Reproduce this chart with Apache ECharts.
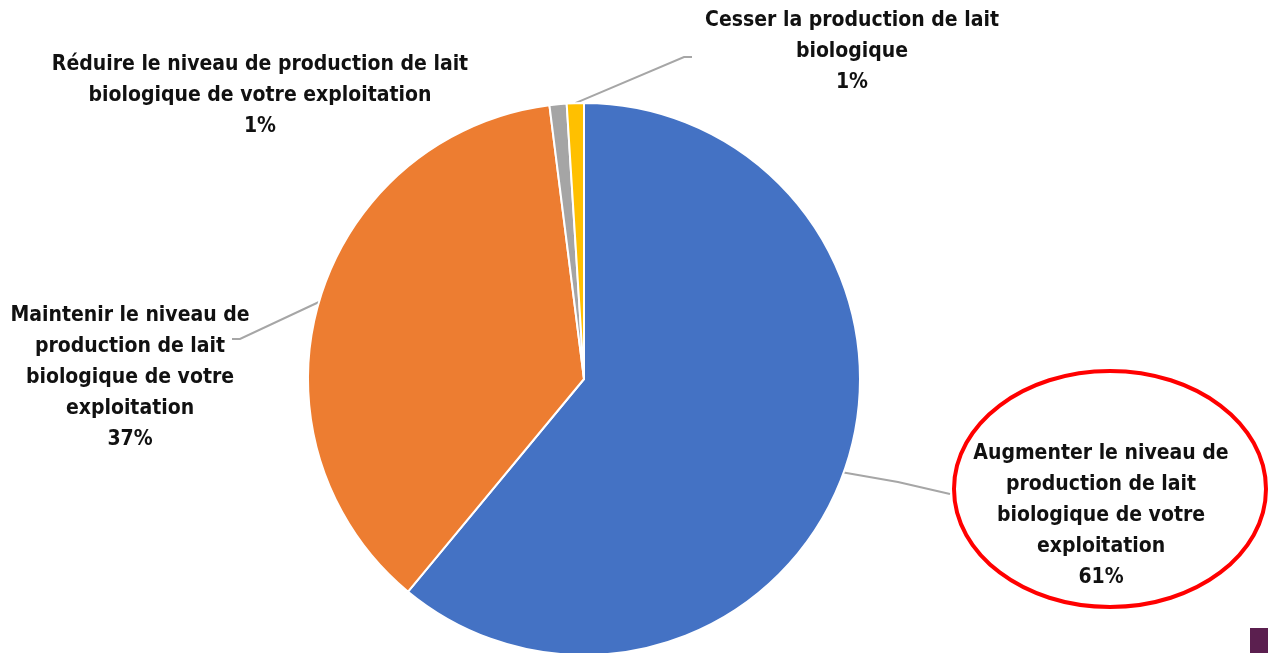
<!DOCTYPE html>
<html><head><meta charset="utf-8">
<script src="https://cdn.jsdelivr.net/npm/echarts@6/dist/echarts.min.js"></script>
<style>html,body{margin:0;padding:0;background:#fff}#c{width:1268px;height:653px}</style>
</head><body><div id="c"></div>
<script>
const categories = [
  "Augmenter le niveau de\nproduction de lait\nbiologique de votre\nexploitation",
  "Maintenir le niveau de\nproduction de lait\nbiologique de votre\nexploitation",
  "Réduire le niveau de production de lait\nbiologique de votre exploitation",
  "Cesser la production de lait\nbiologique"
];
const values = [61, 37, 1, 1];
const colors = ["#4472C4", "#ED7D31", "#A5A5A5", "#FFC000"];
// label anchor (center x, center y) per slice
const labelPos = [[1101, 516], [130, 378], [260, 96], [852, 52]];
// label line bend / end points
const linePts = [
  [[898, 482], [950, 494]],
  [[240, 339], [232, 339]],
  null,
  [[684, 57], [692, 57]]
];

const chart = echarts.init(document.getElementById('c'), null, {renderer: 'canvas'});
const font = "'Liberation Sans Narrow', 'Arial Narrow', 'DejaVu Sans Condensed', sans-serif";
chart.setOption({
  animation: false,
  backgroundColor: '#fff',
  graphic: [
    {type: 'ellipse', shape: {cx: 1110, cy: 489, rx: 156, ry: 118}, style: {fill: 'none', stroke: '#FF0000', lineWidth: 4}, z: 10},
    {type: 'rect', shape: {x: 1250, y: 628, width: 18, height: 25}, style: {fill: '#5B1F4F'}}
  ],
  series: [{
    type: 'pie',
    center: [584, 379],
    radius: 276,
    startAngle: 90,
    clockwise: true,
    avoidLabelOverlap: false,
    data: categories.map((n, i) => ({
      name: n, value: values[i],
      itemStyle: {color: colors[i]},
      labelLine: {show: linePts[i] !== null}
    })),
    itemStyle: {borderColor: '#fff', borderWidth: 2},
    label: {
      show: true,
      position: 'outside',
      formatter: '{b}\n{c}%',
      fontFamily: font,
      fontWeight: 'bold',
      fontSize: 21,
      lineHeight: 31,
      color: '#111',
      align: 'center'
    },
    labelLine: {show: true, length: 20, length2: 10, lineStyle: {color: '#A6A6A6', width: 2}},
    labelLayout: function (p) {
      const i = p.dataIndex;
      const r = {x: labelPos[i][0], y: labelPos[i][1], align: 'center', verticalAlign: 'middle'};
      if (linePts[i] && p.labelLinePoints) {
        const pts = p.labelLinePoints;
        r.labelLinePoints = [pts[0], linePts[i][0], linePts[i][1]];
      }
      return r;
    }
  }]
});
</script></body></html>
